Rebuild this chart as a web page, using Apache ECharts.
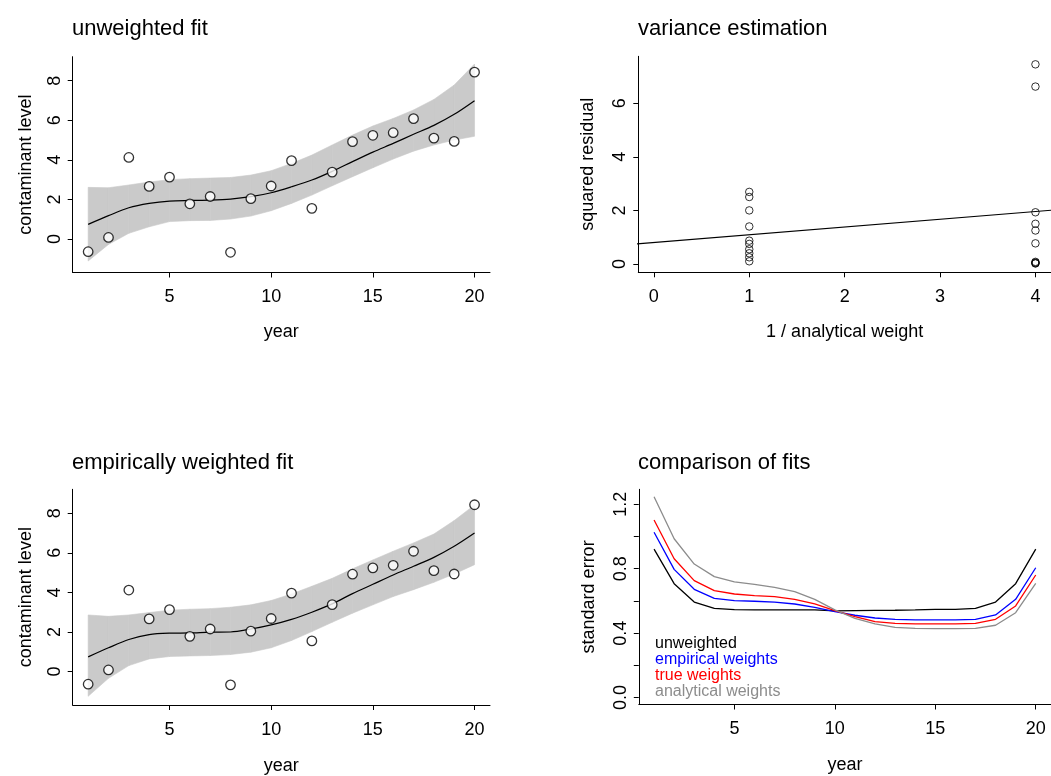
<!DOCTYPE html>
<html>
<head>
<meta charset="utf-8">
<script src="https://cdn.jsdelivr.net/npm/echarts@6/dist/echarts.min.js"></script>
<style>
html,body{margin:0;padding:0;background:#fff;}
#chart{width:1051px;height:776px;}
</style>
</head>
<body>
<div id="chart"></div>
<script>
// ---------- data ----------
const years = [1,2,3,4,5,6,7,8,9,10,11,12,13,14,15,16,17,18,19,20];
const contaminant = [-0.64,0.08,4.12,2.66,3.13,1.78,2.15,-0.67,2.04,2.68,3.96,1.55,3.38,4.92,5.24,5.37,6.08,5.10,4.93,8.43];

const fitUnweighted = [0.74,1.18,1.58,1.80,1.92,1.95,1.97,2.02,2.14,2.34,2.64,2.98,3.42,3.91,4.39,4.83,5.29,5.74,6.30,6.99];
const bandUnweightedLow = [-1.11,-0.27,0.29,0.62,0.88,0.93,0.94,1.01,1.16,1.43,1.80,2.22,2.69,3.15,3.60,4.04,4.44,4.75,5.00,5.19];
const bandUnweightedHigh = [2.61,2.59,2.73,2.88,3.00,3.05,3.08,3.11,3.23,3.45,3.82,4.24,4.75,5.25,5.71,6.09,6.52,7.05,7.78,8.84];

const fitEmpirical = [0.74,1.20,1.62,1.87,1.94,1.95,1.99,2.00,2.15,2.36,2.64,3.00,3.42,3.94,4.41,4.88,5.32,5.77,6.33,7.00];
const bandEmpiricalLow = [-1.25,-0.34,0.30,0.64,0.76,0.79,0.81,0.86,0.98,1.20,1.57,2.02,2.49,2.95,3.37,3.79,4.14,4.51,4.93,5.40];
const bandEmpiricalHigh = [2.86,2.79,2.86,2.98,3.10,3.15,3.18,3.25,3.37,3.59,3.92,4.31,4.71,5.19,5.64,6.08,6.50,6.95,7.63,8.42];

const invWeight = [1,1,1,1,1,1,1,1,1,1,4,4,4,4,4,4,4,4,4,4];
const squaredResidual = [2.69,2.50,2.00,1.40,0.87,0.75,0.55,0.40,0.25,0.10,7.45,6.62,1.93,1.50,1.25,0.77,0.08,0.05,0.03,0.02];
const varLineX = [-0.2,4.2];
const varLineY = [0.742,2.018];

const seUnweighted = [0.922,0.707,0.593,0.554,0.546,0.544,0.544,0.544,0.544,0.538,0.540,0.541,0.542,0.544,0.548,0.548,0.554,0.593,0.707,0.922];
const seEmpirical  = [1.026,0.796,0.672,0.616,0.602,0.598,0.593,0.581,0.560,0.533,0.511,0.494,0.486,0.482,0.482,0.482,0.486,0.513,0.610,0.806];
const seTrue       = [1.102,0.862,0.726,0.664,0.643,0.633,0.627,0.610,0.581,0.540,0.502,0.471,0.461,0.457,0.457,0.457,0.461,0.486,0.569,0.761];
const seAnalytical = [1.247,0.986,0.829,0.751,0.718,0.703,0.684,0.658,0.610,0.544,0.492,0.457,0.436,0.430,0.428,0.428,0.430,0.449,0.527,0.709];

const yearTicks = [5,10,15,20];
const levelTicks = [0,2,4,6,8];
const weightTicks = [0,1,2,3,4];
const residTicks = [0,2,4,6];
const seTicks = [0,0.2,0.4,0.6,0.8,1.0,1.2];
const seLabels = [0,0.4,0.8,1.2];

const titles = ['unweighted fit','variance estimation','empirically weighted fit','comparison of fits'];
const legendNames = ['unweighted','empirical weights','true weights','analytical weights'];
const legendColors = ['#000000','#0000ff','#ff0000','#8c8c8c'];

// ---------- helpers ----------
const FONT = 'Liberation Sans, Arial, Helvetica, sans-serif';
const BAND = '#cacaca';
const pairs = (xs, ys) => xs.map((x, i) => [x, ys[i]]);
const triples = (xs, lo, hi) => xs.map((x, i) => [x, lo[i], hi[i]]);

function xAx(gridIndex, min, max, ticks, name, gap) {
  return {
    type: 'value', gridIndex, min, max, name,
    nameLocation: 'middle', nameGap: gap,
    nameTextStyle: {fontFamily: FONT, fontSize: 18, color: '#000'},
    axisLine: {show: true, onZero: false, lineStyle: {color: '#000', width: 1}},
    axisTick: {show: true, inside: false, length: 5, customValues: ticks, lineStyle: {color: '#000'}},
    axisLabel: {show: true, margin: 16, customValues: ticks, fontFamily: FONT, fontSize: 18, color: '#000'},
    splitLine: {show: false}
  };
}
function yAx(gridIndex, min, max, ticks, labels, name, gap, fmt) {
  return {
    type: 'value', gridIndex, min, max, name,
    nameLocation: 'middle', nameGap: gap, nameRotate: 90,
    nameTextStyle: {fontFamily: FONT, fontSize: 18, color: '#000'},
    axisLine: {show: true, onZero: false, lineStyle: {color: '#000', width: 1}},
    axisTick: {show: true, inside: false, length: 5, customValues: ticks, lineStyle: {color: '#000'}},
    axisLabel: {show: true, rotate: 90, margin: 9, customValues: labels, fontFamily: FONT, fontSize: 18, color: '#000',
      formatter: fmt || (v => String(v))},
    splitLine: {show: false}
  };
}

// confidence band: one filled quad per interval between consecutive years
function bandSeries(idx, lo, hi) {
  const rows = triples(years, lo, hi);
  return {
    type: 'custom', xAxisIndex: idx, yAxisIndex: idx, data: rows, silent: true, z: 1,
    clip: true,
    renderItem: function (params, api) {
      const i = params.dataIndex;
      if (i >= rows.length - 1) return null;
      const x0 = api.value(0), l0 = api.value(1), h0 = api.value(2);
      const n = rows[i + 1];
      const pts = [api.coord([x0, h0]), api.coord([n[0], n[2]]), api.coord([n[0], n[1]]), api.coord([x0, l0])];
      return {type: 'polygon', shape: {points: pts}, style: {fill: BAND, stroke: BAND, lineWidth: 0.6}};
    },
    encode: {x: 0, y: [1, 2]}
  };
}
function fitSeries(idx, fit) {
  return {type: 'line', xAxisIndex: idx, yAxisIndex: idx, data: pairs(years, fit), symbol: 'none', smooth: 0.3,
    lineStyle: {color: '#000', width: 1.2}, z: 2};
}
function pointSeries(idx) {
  return {type: 'scatter', xAxisIndex: idx, yAxisIndex: idx, data: pairs(years, contaminant), symbol: 'circle', symbolSize: 9.5,
    itemStyle: {color: '#ffffff', borderColor: '#000', borderWidth: 1.3}, z: 3};
}
function seSeries(name, vals, color) {
  return {type: 'line', name, xAxisIndex: 3, yAxisIndex: 3, data: pairs(years, vals), symbol: 'none',
    lineStyle: {color, width: 1.3}, itemStyle: {color}, z: 2};
}

const titleTops = [18, 18, 452, 452];
const titleLefts = [72, 638, 72, 638];

const option = {
  animation: false,
  backgroundColor: '#ffffff',
  title: titles.map((t, i) => ({
    text: t, left: titleLefts[i], top: titleTops[i], padding: 0,
    textStyle: {fontFamily: FONT, fontSize: 22, fontWeight: 'normal', color: '#000'}
  })),
  legend: {
    orient: 'vertical', left: 650, top: 636, icon: 'none', itemWidth: 0, itemHeight: 0, itemGap: 0,
    padding: 0, selectedMode: false,
    textStyle: {fontFamily: FONT, fontSize: 16, lineHeight: 15.8},
    data: legendNames.map((n, i) => ({name: n, textStyle: {color: legendColors[i]}}))
  },
  grid: [
    {left: 72.7, top: 56.7, width: 417.3, height: 215.8},
    {left: 638.3, top: 56.3, width: 416.7, height: 216.0},
    {left: 72.7, top: 489.3, width: 417.3, height: 215.8},
    {left: 638.8, top: 489.3, width: 416.7, height: 215.2}
  ],
  xAxis: [
    xAx(0, 0.24, 20.76, yearTicks, 'year', 51),
    xAx(1, -0.163, 4.163, weightTicks, '1 / analytical weight', 51),
    xAx(2, 0.24, 20.76, yearTicks, 'year', 52),
    xAx(3, 0.24, 20.76, yearTicks, 'year', 52)
  ],
  yAxis: [
    yAx(0, -1.69, 9.21, levelTicks, levelTicks, 'contaminant level', 38),
    yAx(1, -0.31, 7.75, residTicks, residTicks, 'squared residual', 41),
    yAx(2, -1.69, 9.21, levelTicks, levelTicks, 'contaminant level', 38),
    yAx(3, -0.043, 1.293, seTicks, seLabels, 'standard error', 41, v => v.toFixed(1))
  ],
  series: [
    bandSeries(0, bandUnweightedLow, bandUnweightedHigh),
    fitSeries(0, fitUnweighted),
    pointSeries(0),
    {type: 'scatter', xAxisIndex: 1, yAxisIndex: 1, data: pairs(invWeight, squaredResidual), symbol: 'circle', symbolSize: 7.5,
     itemStyle: {color: 'rgba(0,0,0,0)', borderColor: '#000', borderWidth: 1}, z: 3},
    {type: 'line', xAxisIndex: 1, yAxisIndex: 1, data: pairs(varLineX, varLineY), symbol: 'none', clip: true,
     lineStyle: {color: '#000', width: 1.1}, z: 2},
    bandSeries(2, bandEmpiricalLow, bandEmpiricalHigh),
    fitSeries(2, fitEmpirical),
    pointSeries(2),
    seSeries(legendNames[0], seUnweighted, legendColors[0]),
    seSeries(legendNames[1], seEmpirical, legendColors[1]),
    seSeries(legendNames[2], seTrue, legendColors[2]),
    seSeries(legendNames[3], seAnalytical, legendColors[3])
  ]
};

const chart = echarts.init(document.getElementById('chart'), null, {renderer: 'canvas'});
chart.setOption(option);
</script>
</body>
</html>
